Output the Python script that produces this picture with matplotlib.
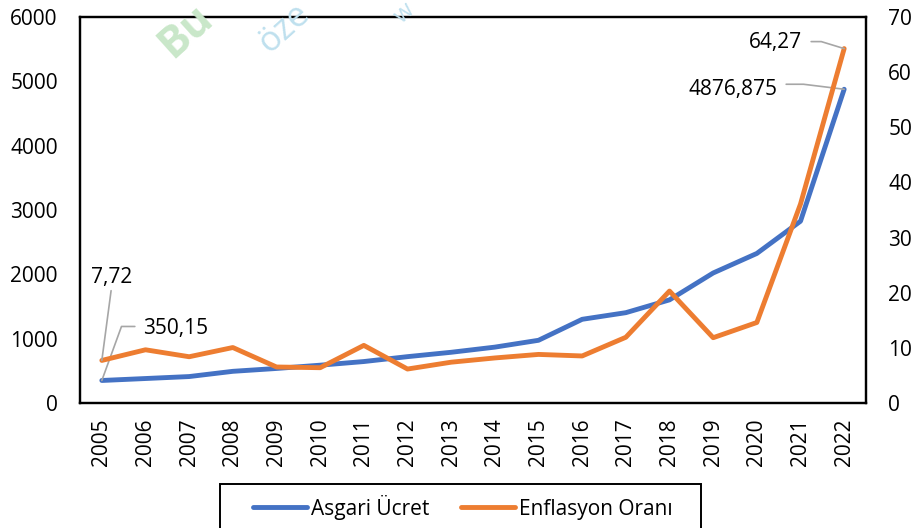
import matplotlib
matplotlib.use("Agg")
import matplotlib.pyplot as plt
from matplotlib.lines import Line2D
from matplotlib.patches import Rectangle

plt.rcParams['font.family'] = ['Open Sans', 'DejaVu Sans']

years = [str(y) for y in range(2005, 2023)]
asgari_ucret = [350.15, 380.46, 411.09, 492.41, 536.81, 587.85, 644.46, 720.46,
                788.35, 868.52, 974.81, 1300.99, 1404.06, 1603.12, 2020.90,
                2324.71, 2825.90, 4876.875]
enflasyon = [7.72, 9.65, 8.39, 10.06, 6.53, 6.40, 10.45, 6.16, 7.40, 8.17,
             8.81, 8.53, 11.92, 20.30, 11.84, 14.60, 36.08, 64.27]
left_ticks = [0, 1000, 2000, 3000, 4000, 5000, 6000]
right_ticks = [0, 10, 20, 30, 40, 50, 60, 70]

BLUE = '#4472C4'
ORANGE = '#ED7D31'
GRAY = '#A6A6A6'
FS = 15
LW = 3.5

W, H = 917, 528
fig = plt.figure(figsize=(W/100, H/100), dpi=100)
ax = fig.add_axes([80/W, 1-403/H, 786/W, (403-17)/H])
ax2 = ax.twinx()

x = list(range(len(years)))
ax.plot(x, asgari_ucret, color=BLUE, lw=LW, solid_capstyle='round', solid_joinstyle='round', zorder=3)
ax2.plot(x, enflasyon, color=ORANGE, lw=LW, solid_capstyle='round', solid_joinstyle='round', zorder=3)

ax.set_xlim(-0.5, len(years) - 0.5)
ax.set_ylim(0, 6000)
ax2.set_ylim(0, 70)
ax.set_yticks(left_ticks)
ax.set_yticklabels([str(t) for t in left_ticks])
ax2.set_yticks(right_ticks)
ax2.set_yticklabels([str(t) for t in right_ticks])
ax.set_xticks(x)
ax.set_xticklabels(years, rotation=90)

for a in (ax, ax2):
    a.tick_params(axis='both', length=0, labelsize=FS, colors='black')
    for s in a.spines.values():
        s.set_linewidth(1.6)
        s.set_color('black')
ax.tick_params(axis='y', pad=16)
ax2.tick_params(axis='y', pad=16)
ax.tick_params(axis='x', pad=11)

# data labels with leader lines
ax2.annotate('7,72', xy=(0, enflasyon[0]), xytext=(-11, 83), textcoords='offset pixels',
             fontsize=FS, ha='left', va='center',
             arrowprops=dict(arrowstyle='-', color=GRAY, lw=1.2,
                             shrinkA=0, shrinkB=0, relpos=(0.5, 0)),
             zorder=5)
ax.annotate('350,15', xy=(0, asgari_ucret[0]), xytext=(41, 52), textcoords='offset pixels',
            fontsize=FS, ha='left', va='center', zorder=5)
ax.annotate('', xy=(0, asgari_ucret[0]), xytext=(33, 54), textcoords='offset pixels',
            arrowprops=dict(arrowstyle='-', color=GRAY, lw=1.2, shrinkA=0, shrinkB=0,
                            connectionstyle='angle,angleA=0,angleB=70,rad=0'))
ax2.annotate('64,27', xy=(17, enflasyon[-1]), xytext=(-42, 6), textcoords='offset pixels',
             fontsize=FS, ha='right', va='center', zorder=5)
ax2.annotate('', xy=(17, enflasyon[-1]), xytext=(-33, 7), textcoords='offset pixels',
             arrowprops=dict(arrowstyle='-', color=GRAY, lw=1.2, shrinkA=0, shrinkB=0,
                             connectionstyle='angle,angleA=0,angleB=-17,rad=0'))
ax.annotate('4876,875', xy=(17, asgari_ucret[-1]), xytext=(-67, 0), textcoords='offset pixels',
            fontsize=FS, ha='right', va='center', zorder=5)
ax.annotate('', xy=(17, asgari_ucret[-1]), xytext=(-58, 5), textcoords='offset pixels',
            arrowprops=dict(arrowstyle='-', color=GRAY, lw=1.2, shrinkA=0, shrinkB=0,
                            connectionstyle='angle,angleA=0,angleB=-7,rad=0'))

# legend box (drawn manually) and entries
fig.patches.append(Rectangle((220/W, 1-560/H), (701-220)/W, (560-484)/H,
                             transform=fig.transFigure, fill=False,
                             edgecolor='black', lw=1.4, zorder=1))
handles = [Line2D([], [], color=BLUE, lw=LW, solid_capstyle='round'),
           Line2D([], [], color=ORANGE, lw=LW, solid_capstyle='round')]
leg = fig.legend(handles, ['Asgari Ücret', 'Enflasyon Oranı'], ncol=2,
                 loc='center left', bbox_to_anchor=(253/W, 1-507/H),
                 frameon=False, fontsize=FS, handlelength=2.6,
                 handletextpad=0.2, columnspacing=1.5, borderpad=0,
                 borderaxespad=0)

# watermark fragments
fig.text(150/W, 1-66/H, 'Bu', rotation=42, color='#C9E7C9', fontsize=31,
         fontweight='bold', ha='left', va='bottom', zorder=0)
fig.text(252/W, 1-60/H, 'öze', rotation=42, color='#BFE0EE', fontsize=25,
         ha='left', va='bottom', zorder=0)
fig.text(390/W, 1-28/H, 'w', rotation=42, color='#BFE0EE', fontsize=17,
         ha='left', va='bottom', zorder=0)

fig.savefig('out.png', dpi=100)
